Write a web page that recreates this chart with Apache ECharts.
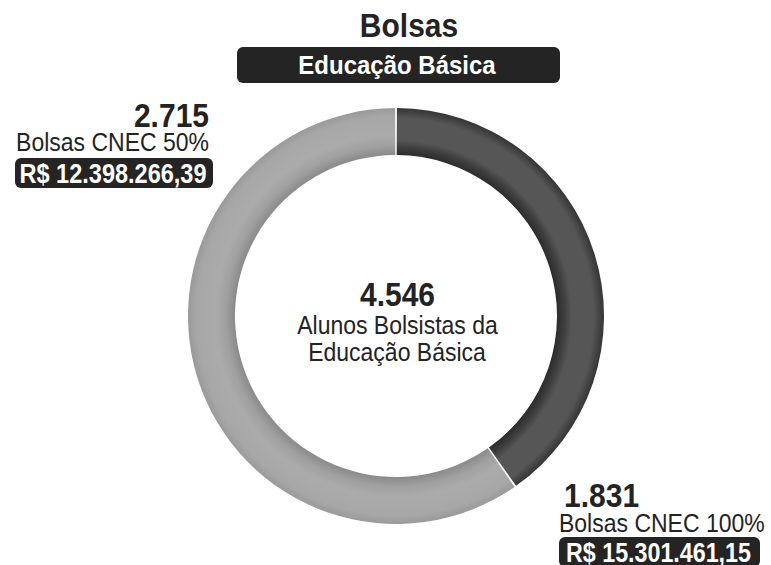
<!DOCTYPE html>
<html>
<head>
<meta charset="utf-8">
<script src="https://cdn.jsdelivr.net/npm/echarts@6/dist/echarts.min.js"></script>
<style>
  html, body { margin: 0; padding: 0; background: #fff; }
  #chart { width: 771px; height: 565px; }
</style>
</head>
<body>
<div id="chart"></div>
<script>
// dados das bolsas
const categories = ['Bolsas CNEC 100%', 'Bolsas CNEC 50%']
const students = [1831, 2715]
const amounts = ['R$ 15.301.461,15', 'R$ 12.398.266,39']
const chartTitle = 'Bolsas'
const chartSubtitle = 'Educação Básica'
const centerLines = ['Alunos Bolsistas da', 'Educação Básica']

const FONT = '"Liberation Sans", Arial, sans-serif'
const INK = '#232323'
const BOX = '#242424'
const CX = 396
const CY = 316
const R_IN = 161
const R_OUT = 208
const STRETCH = 1.085 // o texto do original é um pouco esticado na vertical

function fmt(n) {
  return String(n).replace(/\B(?=(\d{3})+(?!\d))/g, '.')
}

function ring(stops) {
  return { type: 'radial', x: CX, y: CY, r: R_OUT, global: true, colorStops: stops }
}

const fills = [
  ring([
    { offset: 0.774, color: '#2c2c2c' },
    { offset: 0.81, color: '#3e3e3e' },
    { offset: 0.845, color: '#565656' },
    { offset: 0.95, color: '#565656' },
    { offset: 0.975, color: '#454545' },
    { offset: 1, color: '#353535' },
  ]),
  ring([
    { offset: 0.774, color: '#8a8a8a' },
    { offset: 0.82, color: '#a0a0a0' },
    { offset: 0.87, color: '#ababab' },
    { offset: 0.96, color: '#a7a7a7' },
    { offset: 1, color: '#9a9a9a' },
  ]),
]

// onde ficam os rótulos de cada fatia
const spots = [
  { align: 'left', valueX: 564, valueY: 496, nameX: 559, nameY: 523, box: [559, 537, 201, 30], moneyY: 552.5, moneyW: 185 },
  { align: 'right', valueX: 209, valueY: 116, nameX: 209, nameY: 142, box: [15, 158, 198, 30], moneyY: 173, moneyW: 187 },
]

const total = students.reduce((a, b) => a + b, 0)

const measure = document.createElement('canvas').getContext('2d')

function text(x, y, str, font, align, fill, width) {
  let sx = 1
  if (width) {
    measure.font = font
    sx = width / measure.measureText(str).width
  }
  return {
    type: 'text', x: x, y: y, scaleX: sx, scaleY: STRETCH, silent: true,
    style: { text: str, font: font, fill: fill || INK, textAlign: align, textVerticalAlign: 'middle' },
  }
}

const graphics = [
  text(409, 26.5, chartTitle, 'bold 30px ' + FONT, 'center'),
  { type: 'rect', silent: true, shape: { x: 237, y: 47, width: 323, height: 36, r: 6 }, style: { fill: BOX } },
  text(397, 64.5, chartSubtitle, 'bold 24px ' + FONT, 'center', '#fff'),
  text(397.5, 295.5, fmt(total), 'bold 30px ' + FONT, 'center'),
  text(397.5, 325, centerLines[0], '23px ' + FONT, 'center'),
  text(397, 352.5, centerLines[1], '23px ' + FONT, 'center'),
]

categories.forEach(function (name, i) {
  const s = spots[i]
  graphics.push(text(s.valueX, s.valueY, fmt(students[i]), 'bold 30px ' + FONT, s.align))
  graphics.push(text(s.nameX, s.nameY, name, '23px ' + FONT, s.align))
  graphics.push({
    type: 'rect', silent: true,
    shape: { x: s.box[0], y: s.box[1], width: s.box[2], height: s.box[3], r: 6 },
    style: { fill: BOX },
  })
  graphics.push(text(s.box[0] + s.box[2] / 2 - 1, s.moneyY, amounts[i], 'bold 26px ' + FONT, 'center', '#fff', s.moneyW))
})

const myChart = echarts.init(document.getElementById('chart'), null, { renderer: 'svg' })
myChart.setOption({
  animation: false,
  series: [
    {
      type: 'pie',
      center: [CX, CY],
      radius: [R_IN, R_OUT],
      startAngle: 90,
      clockwise: true,
      padAngle: 0.5,
      silent: true,
      label: { show: false },
      labelLine: { show: false },
      data: categories.map(function (name, i) {
        return { name: name, value: students[i], itemStyle: { color: fills[i] } }
      }),
    },
  ],
  graphic: graphics,
})
window.addEventListener('resize', function () {
  myChart.resize()
})
</script>
</body>
</html>
